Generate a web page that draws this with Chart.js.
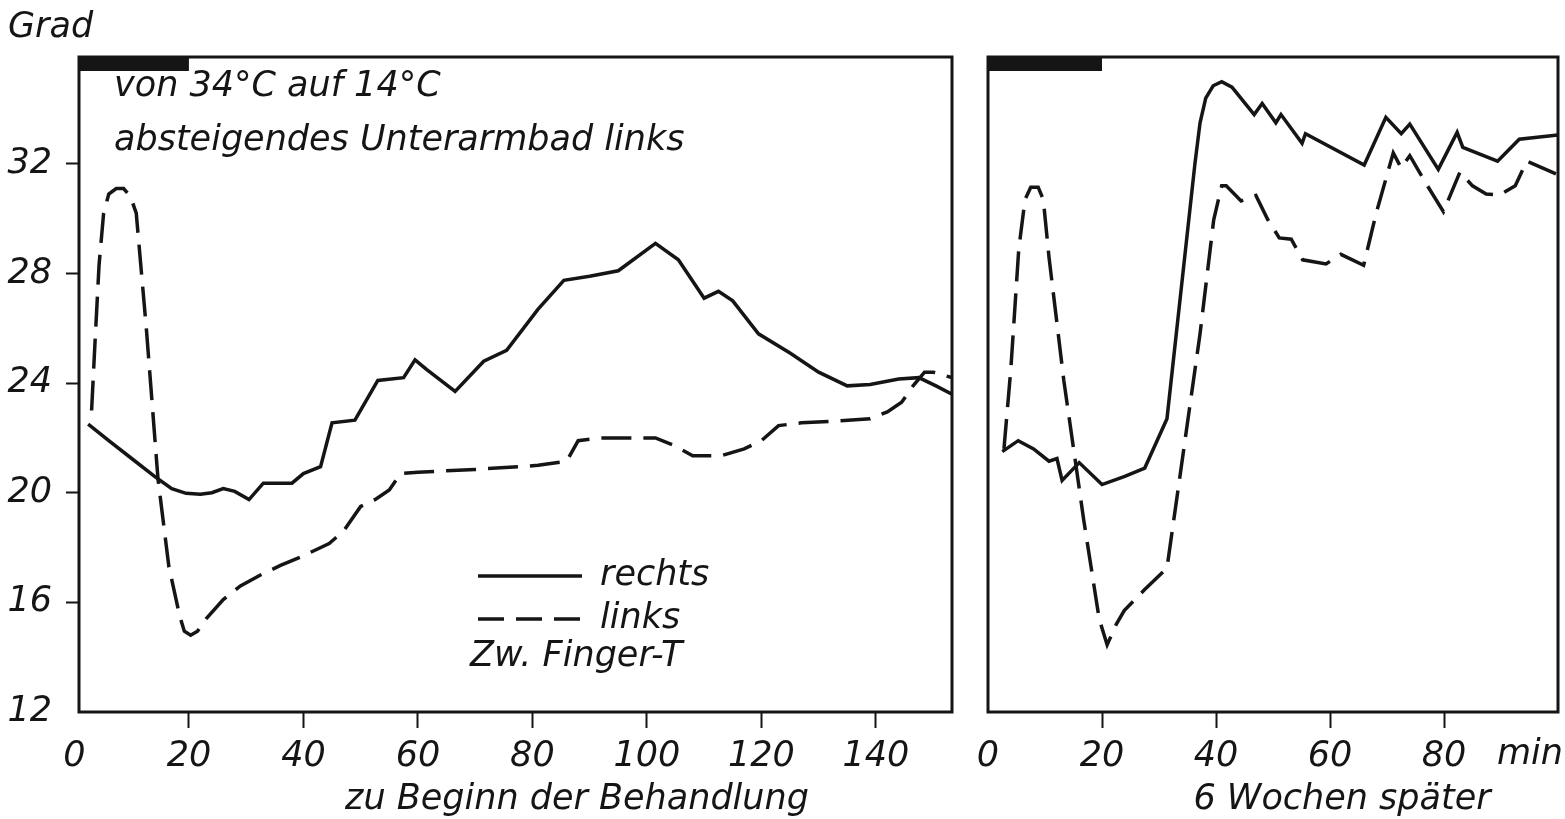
<!DOCTYPE html>
<html>
<head>
<meta charset="utf-8">
<script src="https://cdn.jsdelivr.net/npm/chart.js@4.4.0/dist/chart.umd.min.js"></script>
<style>
  html, body { margin: 0; background: #fff; }
  canvas { position: absolute; top: 0; }
  #leftChart { left: 0; }
  #rightChart { left: 960px; }
</style>
</head>
<body>
<canvas id="leftChart" width="960" height="819"></canvas>
<canvas id="rightChart" width="605" height="819"></canvas>
<script>
// Zw. Finger-Temperatur, Grad vs. min
// left: zu Beginn der Behandlung, right: 6 Wochen spaeter

var yTicks = [12, 16, 20, 24, 28, 32];
var xTicksLeft = [0, 20, 40, 60, 80, 100, 120, 140];
var xTicksRight = [0, 20, 40, 60, 80];

// left panel, rechts (solid)
var leftRechtsX = [2.4, 6, 10, 14, 17, 19.5, 22, 24, 26, 28, 30.5, 33, 38, 40, 43, 45, 49, 53, 57.5, 59.5, 61.5, 66.5, 71.5, 75.5, 81, 85.5, 90, 95, 101.5, 105.5, 110, 112.5, 115, 119.5, 125, 130, 135, 139, 144, 147.5, 150.5, 153.3];
var leftRechtsY = [22.5, 21.9, 21.25, 20.6, 20.15, 19.98, 19.95, 20.0, 20.15, 20.05, 19.75, 20.35, 20.35, 20.7, 20.95, 22.55, 22.65, 24.1, 24.2, 24.85, 24.5, 23.7, 24.8, 25.2, 26.7, 27.75, 27.9, 28.1, 29.1, 28.5, 27.1, 27.35, 27.0, 25.8, 25.1, 24.4, 23.9, 23.95, 24.15, 24.2, 23.9, 23.6];

// left panel, links (dashed)
var leftLinksX = [3.0, 3.6, 4.3, 5.1, 6.0, 7.3, 8.6, 9.8, 10.8, 12.6, 14.6, 16.5, 18.4, 19.2, 20.3, 21.5, 23, 26, 29, 32.5, 36, 40, 44.5, 47, 50, 52.5, 55, 57, 60, 70, 81, 86, 88, 92, 101.5, 105, 108, 113, 117, 120, 123, 127, 132, 139, 142, 144.5, 146.5, 148.5, 150, 153.3];
var leftLinksY = [23.0, 25.5, 28.3, 30.2, 30.9, 31.1, 31.1, 30.8, 30.2, 25.9, 20.5, 17.3, 15.5, 14.95, 14.8, 14.95, 15.4, 16.1, 16.6, 17.0, 17.35, 17.7, 18.15, 18.6, 19.5, 19.75, 20.1, 20.7, 20.75, 20.85, 21.0, 21.15, 21.9, 22.0, 22.0, 21.7, 21.35, 21.35, 21.6, 21.9, 22.45, 22.55, 22.6, 22.7, 22.95, 23.3, 23.9, 24.4, 24.4, 24.2];

// right panel, rechts (solid)
var rightRechtsX = [2.5, 5.3, 8, 10.7, 12.1, 13.0, 16, 20, 24, 27.5, 31.4, 36.3, 37.2, 38.2, 39.5, 41, 42.8, 46.7, 48.1, 50.5, 51.4, 55.1, 55.7, 66, 69.8, 72.5, 74, 79, 82.3, 83.3, 89.4, 93.2, 100];
var rightRechtsY = [21.5, 21.9, 21.6, 21.15, 21.25, 20.45, 21.1, 20.3, 20.6, 20.9, 22.7, 32.0, 33.5, 34.4, 34.85, 35.0, 34.8, 33.8, 34.2, 33.5, 33.8, 32.75, 33.1, 31.96, 33.7, 33.1, 33.45, 31.8, 33.15, 32.6, 32.1, 32.9, 33.05];

// right panel, links (dashed)
var rightLinksX = [2.8, 4.0, 5.4, 6.5, 7.5, 8.8, 9.7, 10.7, 13.3, 16.8, 19.5, 20.9, 22.5, 23.9, 27.4, 31.4, 37.2, 39.6, 41, 41.8, 44.4, 47, 49.1, 51.1, 53.2, 55.2, 59.3, 61.9, 65.9, 68.1, 71.1, 72.5, 74, 76.8, 79.9, 82.8, 85, 87.4, 89.7, 92.5, 94.5, 100];
var rightLinksY = [21.6, 24.5, 28.9, 30.7, 31.15, 31.15, 30.7, 28.6, 24.1, 19.0, 15.4, 14.45, 15.2, 15.7, 16.45, 17.25, 25.8, 29.96, 31.2, 31.2, 30.65, 30.85, 29.96, 29.3, 29.25, 28.5, 28.35, 28.7, 28.3, 30.2, 32.4, 31.85, 32.3, 31.3, 30.26, 31.7, 31.2, 30.9, 30.86, 31.2, 32.1, 31.6];

var bathMinutes = [0, 20]; // black bar at top

var INK = '#151515';
var DASH = [30, 12];

Chart.defaults.font.family = "'DejaVu Sans', sans-serif";
Chart.defaults.font.size = 35;
Chart.defaults.font.style = 'italic';
Chart.defaults.color = INK;

function pts(xs, ys) {
  return xs.map(function (x, i) { return { x: x, y: ys[i] }; });
}

function lineSet(label, xs, ys, dashed) {
  return {
    label: label,
    data: pts(xs, ys),
    borderColor: INK,
    borderWidth: 3.5,
    borderDash: dashed ? DASH : [],
    pointRadius: 0,
    tension: 0,
    fill: false
  };
}

// frame box + black bar for the bath
var framePlugin = {
  id: 'frame',
  afterDatasetsDraw: function (chart) {
    var ctx = chart.ctx, a = chart.chartArea, x = chart.scales.x;
    ctx.save();
    ctx.fillStyle = INK;
    var b0 = Math.max(x.getPixelForValue(bathMinutes[0]), a.left);
    var b1 = x.getPixelForValue(bathMinutes[1]);
    ctx.fillRect(b0, a.top, b1 - b0, 14);
    ctx.strokeStyle = INK;
    ctx.lineWidth = 3;
    ctx.strokeRect(a.left, a.top, a.right - a.left, a.bottom - a.top);
    ctx.restore();
  }
};

// free texts and the hand drawn legend
var textPlugin = {
  id: 'texts',
  afterDraw: function (chart, args, opts) {
    var ctx = chart.ctx;
    ctx.save();
    ctx.font = "italic 35px 'DejaVu Sans', sans-serif";
    ctx.fillStyle = INK;
    ctx.textBaseline = 'middle';
    (opts.items || []).forEach(function (t) {
      ctx.textAlign = t.align || 'left';
      ctx.fillText(t.text, t.x, t.y);
    });
    (opts.legend || []).forEach(function (l) {
      var ds = chart.data.datasets[l.dataset];
      ctx.strokeStyle = ds.borderColor;
      ctx.lineWidth = ds.borderWidth;
      ctx.setLineDash(ds.borderDash.length ? [26, 12] : []);
      ctx.beginPath();
      ctx.moveTo(l.x0, l.y);
      ctx.lineTo(l.x1, l.y);
      ctx.stroke();
      ctx.setLineDash([]);
      ctx.textAlign = 'left';
      ctx.fillText(ds.label, l.x1 + 18, l.y);
    });
    ctx.restore();
  }
};

function hideTickAt(v) {
  return function (c) { return c.tick && c.tick.value === v ? 'rgba(0,0,0,0)' : INK; };
}

function xScale(min, max, ticks) {
  return {
    type: 'linear',
    min: min,
    max: max,
    afterBuildTicks: function (s) { s.ticks = ticks.map(function (v) { return { value: v }; }); },
    afterFit: function (s) { s.height = 107; },
    border: { display: false },
    grid: { drawOnChartArea: false, drawTicks: true, tickLength: 16, tickWidth: 2, tickColor: hideTickAt(0) },
    ticks: { autoSkip: false, maxRotation: 0, padding: 8 }
  };
}

function yScale(show) {
  return {
    type: 'linear',
    min: 12,
    max: 35.9,
    display: show,
    afterBuildTicks: function (s) { s.ticks = yTicks.map(function (v) { return { value: v }; }); },
    afterFit: function (s) { s.width = show ? 79 : 0; },
    border: { display: false },
    grid: { drawOnChartArea: false, drawTicks: true, tickLength: 13, tickWidth: 2, tickColor: hideTickAt(12) },
    ticks: { padding: 14 }
  };
}

new Chart(document.getElementById('leftChart'), {
  type: 'line',
  data: {
    datasets: [
      lineSet('rechts', leftRechtsX, leftRechtsY, false),
      lineSet('links', leftLinksX, leftLinksY, true)
    ]
  },
  options: {
    responsive: false,
    animation: false,
    layout: { padding: { top: 57, right: 8, left: 0, bottom: 0 } },
    scales: { x: xScale(0.8, 153.3, xTicksLeft), y: yScale(true) },
    plugins: {
      legend: { display: false },
      tooltip: { enabled: false },
      texts: {
        items: [
          { text: 'Grad', x: 8, y: 28 },
          { text: 'von 34°C auf 14°C', x: 114, y: 87 },
          { text: 'absteigendes Unterarmbad links', x: 114, y: 141 },
          { text: 'Zw. Finger-T', x: 470, y: 657 },
          { text: 'zu Beginn der Behandlung', x: 577, y: 800, align: 'center' }
        ],
        legend: [
          { dataset: 0, x0: 478, x1: 582, y: 576 },
          { dataset: 1, x0: 478, x1: 582, y: 619 }
        ]
      }
    }
  },
  plugins: [framePlugin, textPlugin]
});

new Chart(document.getElementById('rightChart'), {
  type: 'line',
  data: {
    datasets: [
      lineSet('rechts', rightRechtsX, rightRechtsY, false),
      lineSet('links', rightLinksX, rightLinksY, true)
    ]
  },
  options: {
    responsive: false,
    animation: false,
    layout: { padding: { top: 57, right: 7, left: 28, bottom: 0 } },
    scales: { x: xScale(0, 100, xTicksRight), y: yScale(false) },
    plugins: {
      legend: { display: false },
      tooltip: { enabled: false },
      texts: {
        items: [
          { text: 'min', x: 603, y: 755, align: 'right' },
          { text: '6 Wochen später', x: 382, y: 800, align: 'center' }
        ]
      }
    }
  },
  plugins: [framePlugin, textPlugin]
});
</script>
</body>
</html>
